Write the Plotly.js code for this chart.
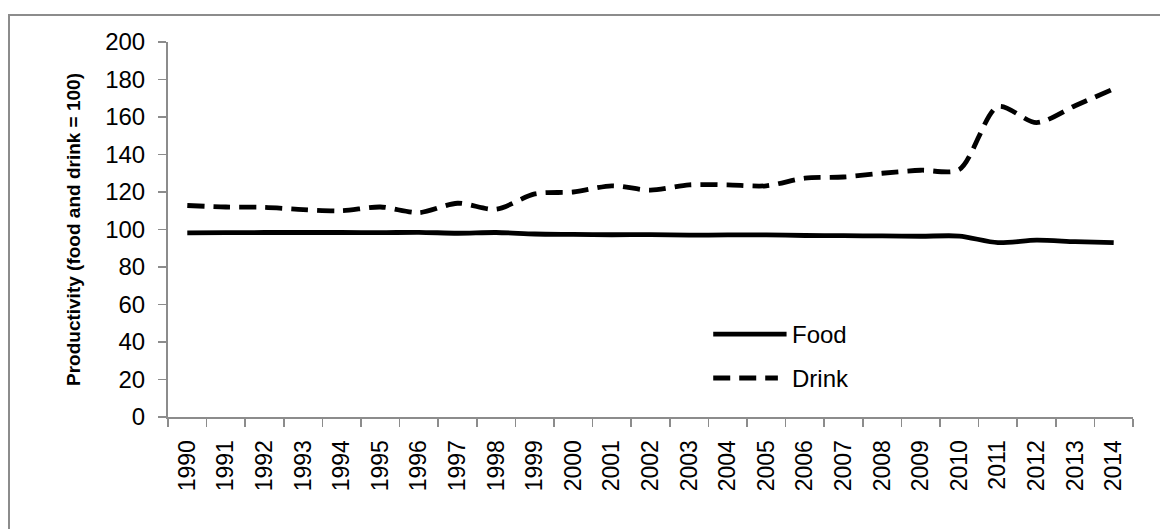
<!DOCTYPE html>
<html>
<head>
<meta charset="utf-8">
<script src="https://cdn.plot.ly/plotly-3.0.1.min.js"></script>
<style>
html,body{margin:0;padding:0;background:#fff;overflow:hidden;}
#frame{position:absolute;left:8px;top:14px;width:1200px;height:600px;border-top:2px solid #8c8c8c;border-left:2px solid #8c8c8c;}
#chart{position:absolute;left:0;top:0;width:1160px;height:529px;}
</style>
</head>
<body>
<div id="frame"></div>
<div id="chart"></div>
<script>
var years = ["1990","1991","1992","1993","1994","1995","1996","1997","1998","1999","2000","2001","2002","2003","2004","2005","2006","2007","2008","2009","2010","2011","2012","2013","2014"];
var food = [98.2,98.3,98.4,98.4,98.4,98.3,98.5,98.0,98.4,97.6,97.4,97.2,97.3,97.0,97.1,97.1,96.8,96.7,96.6,96.4,96.5,93.0,94.3,93.5,93.0];
var drink = [112.8,112,111.8,110.6,110,112,109,114,110.8,119,120,123.3,121,123.8,123.8,123.3,127.4,128,130,131.6,132,165.5,157,166,175];
var seriesNames = ["Food","Drink"];
var yTitle = "Productivity (food and drink = 100)";

var font = "Liberation Sans, Arial, sans-serif";
var dashPat = "17px,9px";
var traces = [
  {x: years, y: food, name: seriesNames[0], type: "scatter", mode: "lines",
   line: {color: "#000", width: 4.8, shape: "spline", smoothing: 0.8}, showlegend: false, hoverinfo: "skip"},
  {x: years, y: drink, name: seriesNames[1], type: "scatter", mode: "lines",
   line: {color: "#000", width: 4.8, shape: "spline", smoothing: 0.8, dash: dashPat}, showlegend: false, hoverinfo: "skip"}
];
var layout = {
  width: 1160, height: 529,
  margin: {l: 168, r: 27, t: 42, b: 112},
  paper_bgcolor: "rgba(0,0,0,0)", plot_bgcolor: "rgba(0,0,0,0)",
  font: {family: font, size: 22, color: "#000"},
  xaxis: {type: "category", range: [-0.5, 24.5], tickangle: -90, tickson: "boundaries",
    ticks: "outside", ticklen: 8, tickcolor: "#8c8c8c", tickwidth: 1.5, ticklabelstandoff: 12,
    showline: true, linecolor: "#8c8c8c", linewidth: 2, showgrid: false, zeroline: false,
    tickfont: {family: font, size: 23, color: "#000"}, automargin: false},
  yaxis: {range: [0, 200], dtick: 20, ticks: "outside", ticklen: 8, tickcolor: "#8c8c8c", tickwidth: 1.5, ticklabelstandoff: 8,
    showline: true, linecolor: "#8c8c8c", linewidth: 2, showgrid: false, zeroline: false,
    tickfont: {family: font, size: 24, color: "#000"}, automargin: false,
    title: {text: "<b>" + yTitle + "</b>", font: {family: font, size: 19, color: "#000"}, standoff: 20}},
  showlegend: false,
  shapes: [
    {type: "line", xref: "paper", yref: "paper", x0: 0.565, x1: 0.641, y0: 0.221, y1: 0.221, line: {color: "#000", width: 4.8}},
    {type: "line", xref: "paper", yref: "paper", x0: 0.565, x1: 0.632, y0: 0.104, y1: 0.104, line: {color: "#000", width: 4.8, dash: dashPat}}
  ],
  annotations: [
    {xref: "paper", yref: "paper", x: 0.645, y: 0.221, xanchor: "left", yanchor: "middle", text: seriesNames[0], showarrow: false, font: {family: font, size: 24, color: "#000"}},
    {xref: "paper", yref: "paper", x: 0.645, y: 0.104, xanchor: "left", yanchor: "middle", text: seriesNames[1], showarrow: false, font: {family: font, size: 24, color: "#000"}}
  ]
};
Plotly.newPlot("chart", traces, layout, {displayModeBar: false, staticPlot: true});
</script>
</body>
</html>
